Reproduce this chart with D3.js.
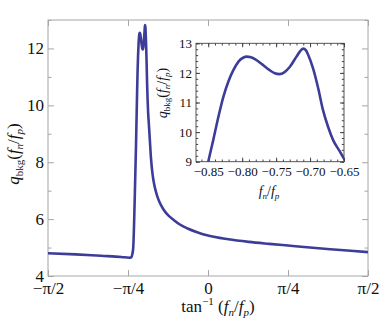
<!DOCTYPE html>
<html>
<head>
<meta charset="utf-8">
<script src="https://cdn.jsdelivr.net/npm/d3@7"></script>
<style>
  body { margin: 0; background: #fff; }
  svg text { font-family: "Liberation Serif", "Times New Roman", serif !important; fill: #111; }
</style>
</head>
<body>
<svg id="chart" width="379" height="326"></svg>
<script>
(function () {
    'use strict';

    var PI = Math.PI;

    // main curve, left of the resonance (x = arctan(fn/fp))
    var headTheta = [-1.5708, -1.3, -1.05, -0.85, -0.775, -0.752, -0.742, -0.734, -0.726, -0.718, -0.7115];
    var headQ = [4.80, 4.76, 4.71, 4.67, 4.64, 4.66, 4.78, 5.0, 5.8, 6.9, 7.9];

    // main curve, right of the resonance
    var tailTheta = [-0.56, -0.545, -0.53, -0.51, -0.49, -0.46, -0.43, -0.39, -0.34, -0.28, -0.2, -0.1, 0,
        0.2, 0.4, 0.6, 0.785, 1.0, 1.2, 1.4, 1.5708];
    var tailQ = [8.15, 7.6, 7.25, 6.95, 6.72, 6.48, 6.3, 6.13, 5.98, 5.82, 5.67, 5.53, 5.42,
        5.29, 5.2, 5.13, 5.07, 5.0, 4.94, 4.89, 4.84];

    // resonance region, shown in the inset (x = fn/fp)
    var insetRatio = [-0.855, -0.85, -0.8426, -0.835, -0.8276, -0.8203, -0.8128, -0.8054, -0.798, -0.7935,
        -0.787, -0.78, -0.77, -0.76, -0.752, -0.745, -0.738, -0.73, -0.72, -0.715, -0.7103, -0.706,
        -0.703, -0.6957, -0.688, -0.681, -0.6735, -0.666, -0.656, -0.649, -0.645];
    var insetQ = [8.5, 9.0, 9.73, 10.52, 11.2, 11.71, 12.1, 12.38, 12.52, 12.55,
        12.53, 12.45, 12.28, 12.1, 11.99, 11.96, 12.02, 12.2, 12.55, 12.72, 12.82, 12.76,
        12.62, 12.16, 11.48, 10.75, 10.18, 9.73, 9.34, 9.06, 8.9];

    var mainXTicks = [-PI / 2, -PI / 4, 0, PI / 4, PI / 2];
    var mainXLabels = ["\u2212\u03c0/2", "\u2212\u03c0/4", "0", "\u03c0/4", "\u03c0/2"];
    var mainYTicks = [4, 6, 8, 10, 12];
    var mainYMinor = [5, 7, 9, 11, 13];
    var insetXTicks = [-0.85, -0.80, -0.75, -0.70, -0.65];
    var insetYTicks = [9, 10, 11, 12, 13];

    var lineColor = "#3d3d99";
    var serif = "'Liberation Serif', 'Times New Roman', serif";
    var svg = d3.select("#chart");

    var x = d3.scaleLinear().domain([-PI / 2, PI / 2]).range([48, 368]);
    var y = d3.scaleLinear().domain([4, 13]).range([276, 20]);

    var xi = d3.scaleLinear().domain([-0.868, -0.65]).range([196, 344]);
    var yi = d3.scaleLinear().domain([9, 13]).range([161.7, 43.3]);

    var minus = function (s) { return s.replace("-", "\u2212"); };

    function styleAxis(g, col, size) {
        g.attr("font-family", serif).attr("font-size", size || 10);
        g.select(".domain").remove();
        g.selectAll("line").attr("stroke", col);
        g.selectAll("text").attr("fill", "#111");
    }

    // ---------- main plot ----------
    svg.append("clipPath").attr("id", "clipMain").append("rect")
        .attr("x", 48).attr("y", 20).attr("width", 320).attr("height", 256);

    var mainPts = [];
    headTheta.forEach(function (t, i) { mainPts.push([t, headQ[i]]); });
    insetRatio.forEach(function (r, i) { mainPts.push([Math.atan(r), insetQ[i]]); });
    tailTheta.forEach(function (t, i) { mainPts.push([t, tailQ[i]]); });

    var frameMain = "#a6a6a6";

    svg.append("g").attr("transform", "translate(0,276)")
        .call(d3.axisBottom(x).tickValues(mainXTicks).tickSizeInner(-6).tickPadding(6)
            .tickFormat(function (d, i) { return mainXLabels[i]; }))
        .call(styleAxis, frameMain, 17);

    svg.append("g").attr("transform", "translate(0,20)")
        .call(d3.axisTop(x).tickValues(mainXTicks).tickSizeInner(-6).tickFormat(""))
        .call(styleAxis, frameMain);

    svg.append("g").attr("transform", "translate(48,0)")
        .call(d3.axisLeft(y).tickValues(mainYTicks).tickSizeInner(-6).tickPadding(4))
        .call(styleAxis, frameMain, 17);

    svg.append("g").attr("transform", "translate(48,0)")
        .call(d3.axisLeft(y).tickValues(mainYMinor).tickSizeInner(-3.5).tickFormat(""))
        .call(styleAxis, frameMain);
    svg.append("g").attr("transform", "translate(368,0)")
        .call(d3.axisRight(y).tickValues(mainYTicks).tickSizeInner(-6).tickFormat(""))
        .call(styleAxis, frameMain);
    svg.append("g").attr("transform", "translate(368,0)")
        .call(d3.axisRight(y).tickValues(mainYMinor).tickSizeInner(-3.5).tickFormat(""))
        .call(styleAxis, frameMain);

    svg.append("rect").attr("x", 48).attr("y", 20).attr("width", 320).attr("height", 256)
        .attr("fill", "none").attr("stroke", frameMain).attr("stroke-width", 1);

    var line = d3.line()
        .x(function (d) { return x(d[0]); })
        .y(function (d) { return y(d[1]); })
        .curve(d3.curveMonotoneX);

    svg.append("path").datum(mainPts)
        .attr("clip-path", "url(#clipMain)")
        .attr("d", line)
        .attr("fill", "none").attr("stroke", lineColor)
        .attr("stroke-width", 2.6).attr("stroke-linejoin", "round");

    // writes q_bkg(f_n/f_p) or f_n/f_p into a text element
    function fracLabel(t, big, small, sh, withQ) {
        t.attr("font-size", big);
        if (withQ) {
            t.append("tspan").attr("font-style", "italic").text("q");
            t.append("tspan").attr("font-size", small).attr("dy", sh).text("bkg");
            t.append("tspan").attr("dy", -sh).text("(");
        }
        t.append("tspan").attr("font-style", "italic").text("f");
        t.append("tspan").attr("font-style", "italic").attr("font-size", small).attr("dy", sh).text("n");
        t.append("tspan").attr("dy", -sh).text("/");
        t.append("tspan").attr("font-style", "italic").text("f");
        t.append("tspan").attr("font-style", "italic").attr("font-size", small).attr("dy", sh).text("p");
        if (withQ) t.append("tspan").attr("dy", -sh).text(")");
    }

    var yl = svg.append("text")
        .attr("transform", "translate(19,154) rotate(-90)")
        .attr("text-anchor", "middle");
    fracLabel(yl, 17, 11, 4, true);

    var xl = svg.append("text")
        .attr("x", 218).attr("y", 312)
        .attr("text-anchor", "middle").attr("font-size", 17);
    xl.append("tspan").text("tan");
    xl.append("tspan").attr("font-size", 11).attr("dy", -7).text("\u22121");
    xl.append("tspan").attr("dy", 7).text(" (");
    xl.append("tspan").attr("font-style", "italic").text("f");
    xl.append("tspan").attr("font-style", "italic").attr("font-size", 11).attr("dy", 4).text("n");
    xl.append("tspan").attr("dy", -4).text("/");
    xl.append("tspan").attr("font-style", "italic").text("f");
    xl.append("tspan").attr("font-style", "italic").attr("font-size", 11).attr("dy", 4).text("p");
    xl.append("tspan").attr("dy", -4).text(")");

    // ---------- inset ----------
    var frameInset = "#444";
    svg.append("rect").attr("x", 196).attr("y", 43.3).attr("width", 148).attr("height", 118.4)
        .attr("fill", "#fff");
    svg.append("clipPath").attr("id", "clipInset").append("rect")
        .attr("x", 196).attr("y", 43.3).attr("width", 148).attr("height", 118.4);

    var insetMinorX = d3.range(-0.86, -0.6499, 0.01);
    var insetMinorY = d3.range(9, 13.001, 0.2);

    svg.append("g").attr("transform", "translate(0,161.7)")
        .call(d3.axisBottom(xi).tickValues(insetXTicks).tickSizeInner(-4).tickPadding(5)
            .tickFormat(function (d) { return minus(d3.format(".2f")(d)); }))
        .call(styleAxis, frameInset, 13);
    svg.append("g").attr("transform", "translate(0,161.7)")
        .call(d3.axisBottom(xi).tickValues(insetMinorX).tickSizeInner(-2.2).tickFormat(""))
        .call(styleAxis, frameInset);
    svg.append("g").attr("transform", "translate(0,43.3)")
        .call(d3.axisTop(xi).tickValues(insetXTicks).tickSizeInner(-4).tickFormat(""))
        .call(styleAxis, frameInset);
    svg.append("g").attr("transform", "translate(0,43.3)")
        .call(d3.axisTop(xi).tickValues(insetMinorX).tickSizeInner(-2.2).tickFormat(""))
        .call(styleAxis, frameInset);

    svg.append("g").attr("transform", "translate(196,0)")
        .call(d3.axisLeft(yi).tickValues(insetYTicks).tickSizeInner(-4).tickPadding(4)
            .tickFormat(d3.format("d")))
        .call(styleAxis, frameInset, 13);
    svg.append("g").attr("transform", "translate(196,0)")
        .call(d3.axisLeft(yi).tickValues(insetMinorY).tickSizeInner(-2.2).tickFormat(""))
        .call(styleAxis, frameInset);
    svg.append("g").attr("transform", "translate(344,0)")
        .call(d3.axisRight(yi).tickValues(insetYTicks).tickSizeInner(-4).tickFormat(""))
        .call(styleAxis, frameInset);
    svg.append("g").attr("transform", "translate(344,0)")
        .call(d3.axisRight(yi).tickValues(insetMinorY).tickSizeInner(-2.2).tickFormat(""))
        .call(styleAxis, frameInset);

    svg.append("rect").attr("x", 196).attr("y", 43.3).attr("width", 148).attr("height", 118.4)
        .attr("fill", "none").attr("stroke", frameInset).attr("stroke-width", 0.9);

    var insetLine = d3.line()
        .x(function (d) { return xi(d); })
        .y(function (d, i) { return yi(insetQ[i]); })
        .curve(d3.curveMonotoneX);

    svg.append("path").datum(insetRatio)
        .attr("clip-path", "url(#clipInset)")
        .attr("d", insetLine)
        .attr("fill", "none").attr("stroke", lineColor)
        .attr("stroke-width", 2.6).attr("stroke-linejoin", "round");

    var iyl = svg.append("text")
        .attr("transform", "translate(167,93) rotate(-90)")
        .attr("text-anchor", "middle");
    fracLabel(iyl, 14, 9, 3, true);

    var ixl = svg.append("text")
        .attr("x", 269).attr("y", 196)
        .attr("text-anchor", "middle");
    fracLabel(ixl, 14, 9, 3, false);
})();
</script>
</body>
</html>
